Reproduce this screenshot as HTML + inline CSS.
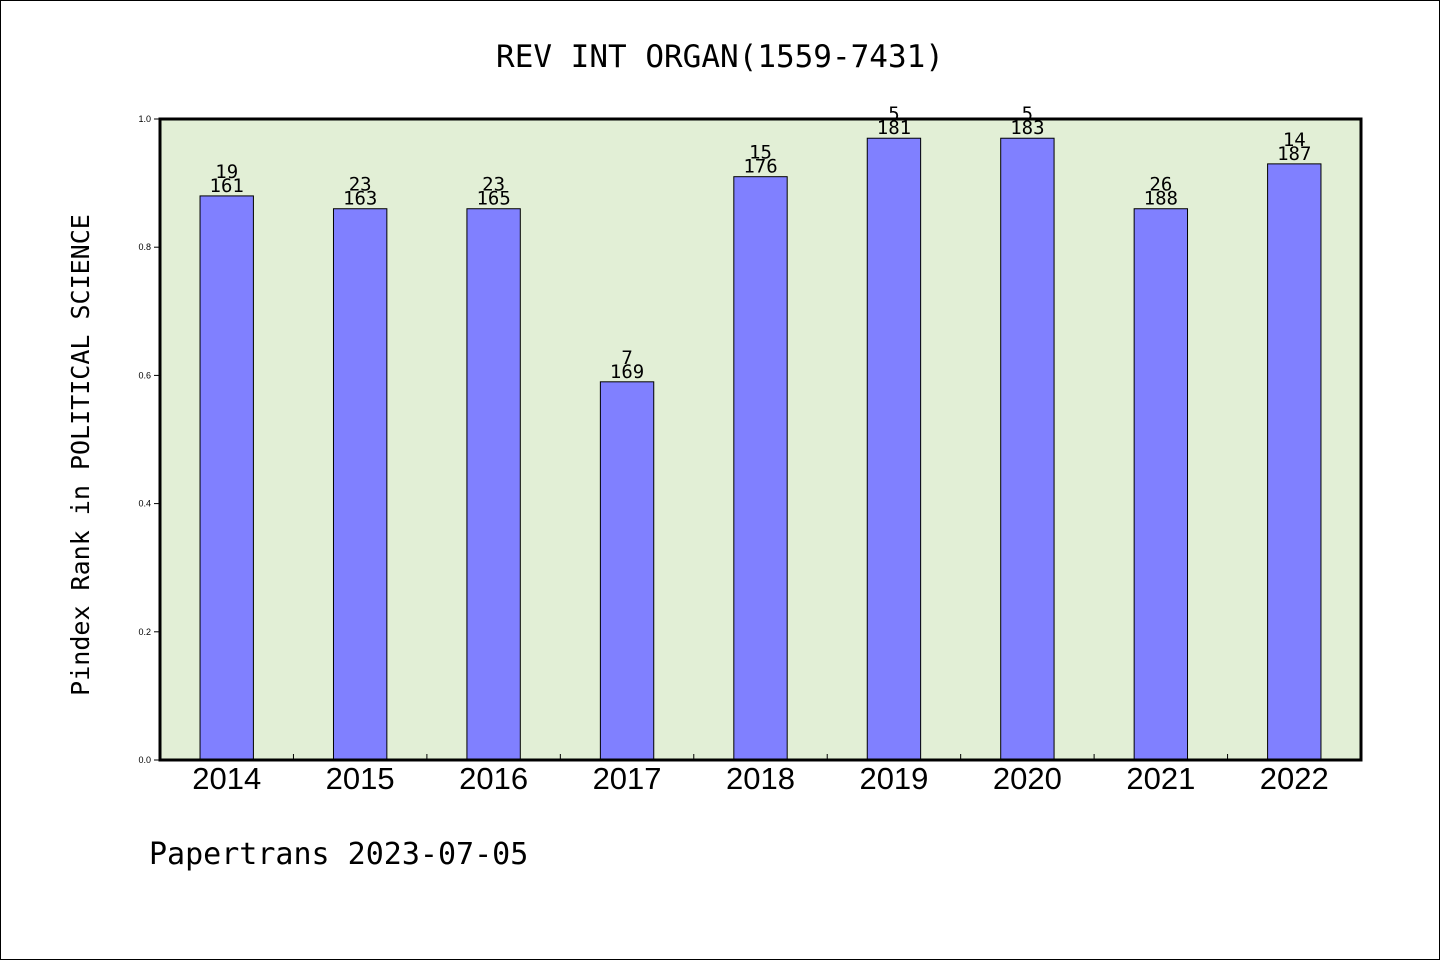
<!DOCTYPE html>
<html><head><meta charset="utf-8"><style>
body{margin:0;background:#fff}
svg{display:block}
.mono{font-family:"WenQuanYi Zen Hei","DejaVu Sans Mono",monospace}
.sans{font-family:"Liberation Sans",sans-serif}
</style></head><body>
<svg id="chart" width="1440" height="960" xmlns="http://www.w3.org/2000/svg">
<rect x="0.5" y="0.5" width="1439" height="959" fill="#fff" stroke="#000"/>
<text x="720" y="67" text-anchor="middle" font-size="31" class="mono">REV INT ORGAN(1559-7431)</text>
<rect x="160" y="119" width="1201" height="641" fill="#e2efd6"/>
<g id="bars"></g>
<g id="yticks"></g>
<g id="xticks"></g>
<rect x="160" y="119" width="1201" height="641" fill="none" stroke="#000" stroke-width="3"/>
<text transform="translate(89,455) rotate(-90)" text-anchor="middle" font-size="25" class="mono">Pindex Rank in POLITICAL SCIENCE</text>
<text x="149" y="864" font-size="30" class="mono">Papertrans 2023-07-05</text>
</svg>
<script>
const categories=["2014","2015","2016","2017","2018","2019","2020","2021","2022"];
const values=[0.88,0.86,0.86,0.59,0.91,0.97,0.97,0.86,0.93];
const ranks=["19","23","23","7","15","5","5","26","14"];
const totals=["161","163","165","169","176","181","183","188","187"];
const yTicks=[0,0.2,0.4,0.6,0.8,1.0];
const NS="http://www.w3.org/2000/svg";
const L=160,R=1361,T=119,B=760;
const bw=(R-L)/categories.length;
const x=i=>L+bw*(i+0.5);
const y=v=>B-(B-T)*v;
function mk(tag,attrs,parent){const e=document.createElementNS(NS,tag);for(const k in attrs)e.setAttribute(k,attrs[k]);parent.appendChild(e);return e;}
const bars=document.getElementById('bars'),yt=document.getElementById('yticks'),xt=document.getElementById('xticks');
categories.forEach((c,i)=>{
  const w=bw*0.4;
  const r=mk('rect',{x:x(i)-w/2,y:y(values[i]),width:w,height:B-y(values[i]),fill:'#8080ff',stroke:'#000','stroke-width':1},bars);
  
  
  const t1=mk('text',{x:x(i),y:y(values[i])-4,'text-anchor':'middle','font-size':19,class:'mono'},bars);
  t1.textContent=totals[i];
  
  
  const t2=mk('text',{x:x(i),y:y(values[i])-18,'text-anchor':'middle','font-size':19,class:'mono'},bars);
  t2.textContent=ranks[i];
  
  
  const xl=mk('text',{x:x(i),y:789,'text-anchor':'middle','font-size':31,class:'sans'},xt);
  xl.textContent=c;
  
  
  if(i>0){const tk=mk('line',{x1:L+bw*i,x2:L+bw*i,y1:B,y2:B-6,stroke:'#000'},xt);
    
    }
});
yTicks.forEach(v=>{
  const tk=mk('line',{x1:L-6,x2:L,y1:y(v),y2:y(v),stroke:'#000'},yt);
  
  
  const tl=mk('text',{x:L-9,y:y(v)+3,'text-anchor':'end','font-size':9,class:'sans'},yt);
  tl.textContent=v.toFixed(1);
  
  
});
</script>
</body></html>
